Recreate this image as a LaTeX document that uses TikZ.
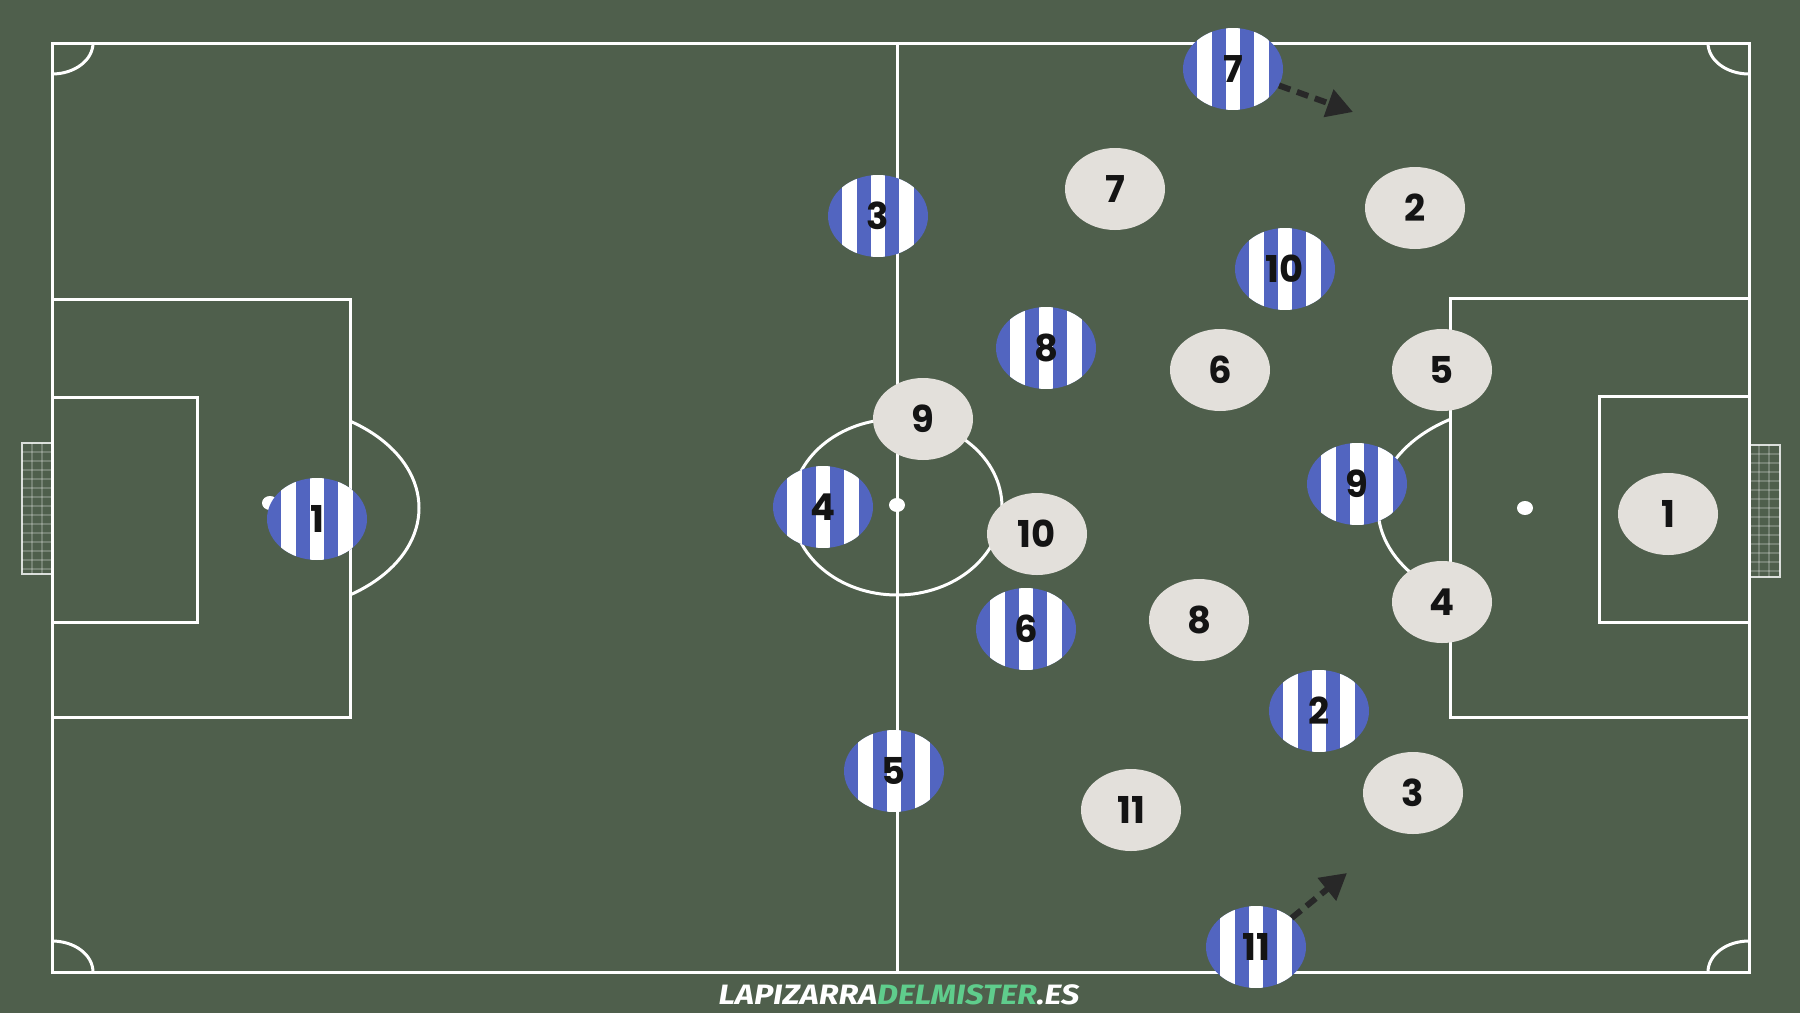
\documentclass[tikz,border=0pt]{standalone}
\usepackage{fontspec}
\newfontfamily\numfont{Poppins}
\newfontfamily\markfont{Fira Sans}[FakeStretch=1.16]
\usetikzlibrary{shapes.geometric,arrows.meta}
\definecolor{pitch}{RGB}{79,95,76}
\definecolor{stripe}{RGB}{82,101,192}
\definecolor{homec}{RGB}{227,224,219}
\definecolor{arrowc}{RGB}{40,40,40}
\definecolor{markgreen}{RGB}{95,205,140}
\begin{document}
\begin{tikzpicture}[x=1pt,y=-1pt,
 pline/.style={draw=white,line width=3pt},
 netline/.style={draw=white,opacity=0.22,line width=1.2pt},
 player/.style={ellipse,minimum width=100pt,minimum height=82pt,inner sep=0pt,
   font=\numfont\bfseries\fontsize{37}{37}\selectfont,text=black!92},
 away/.style={player,fill=stripe,path picture={
   \foreach \i in {-2,0,2}{\fill[white] ([xshift=\i*14.3pt-7.15pt]path picture bounding box.north) rectangle ([xshift=\i*14.3pt+7.15pt]path picture bounding box.south);}}},
 home/.style={player,fill=homec},
 run/.style={draw=arrowc,line width=6pt,dash pattern=on 12pt off 7pt,-{Triangle[length=26pt,width=28pt]}}
]
\fill[pitch] (0,0) rectangle (1800,1013);
\useasboundingbox (0,0) rectangle (1800,1013);
% nets
\foreach \xa/\xb/\ya/\yb in {22/52/443/574,1749/1780/445/577}{
  \foreach \x in {10,20}{\draw[netline] (\xa+\x,\ya) -- (\xa+\x,\yb);}
  \foreach \y in {9,18,...,126}{\draw[netline] (\xa,\ya+\y) -- (\xb,\ya+\y);}
  \draw[draw=white,opacity=0.8,line width=2pt] (\xa,\ya) rectangle (\xb,\yb);
}
% field
\draw[pline] (52,43) rectangle (1749,972);
\draw[pline] (897,43) -- (897,972);
\draw[pline] (897,507) ellipse[x radius=105,y radius=88];
\draw[pline] (52,299) rectangle (350,717);
\draw[pline] (52,397) rectangle (197,622);
\draw[pline] (1749,298) rectangle (1450,717);
\draw[pline] (1749,396) rectangle (1599,622);
\begin{scope}
 \clip (350,300) rectangle (500,720);
 \draw[pline] (270,508) ellipse[x radius=149,y radius=103];
\end{scope}
\begin{scope}
 \clip (1300,300) rectangle (1450,720);
 \draw[pline] (1525,508) ellipse[x radius=147,y radius=103];
\end{scope}
\begin{scope}
 \clip (52,43) rectangle (1749,972);
 \foreach \cx/\cy in {52/43,1749/43,52/972,1749/972}{
   \draw[pline] (\cx,\cy) ellipse[x radius=41,y radius=31];}
\end{scope}
\fill[white] (897,505) ellipse[x radius=8,y radius=7];
\fill[white] (1525,508) ellipse[x radius=8,y radius=7];
\fill[white] (270,503) ellipse[x radius=8,y radius=7];
% home (white) team
\node[home] (h7) at (1115,189) {7};
\node[home] (h2) at (1415,208) {2};
\node[home] (h6) at (1220,370) {6};
\node[home] (h5) at (1442,370) {5};
\node[home] (h9) at (923,419) {9};
\node[home] (h10) at (1037,534) {10};
\node[home] (h8) at (1199,620) {8};
\node[home] (h4) at (1442,602) {4};
\node[home] (h1) at (1668,514) {1};
\node[home] (h11) at (1131,810) {11};
\node[home] (h3) at (1413,793) {3};
% away (striped) team
\node[away] (b7) at (1233,69) {7};
\node[away] (b3) at (878,216) {3};
\node[away] (b10) at (1285,269) {10};
\node[away] (b8) at (1046,348) {8};
\node[away] (b4) at (823,507) {4};
\node[away] (b1) at (317,519) {1};
\node[away] (b9) at (1357,484) {9};
\node[away] (b6) at (1026,629) {6};
\node[away] (b2) at (1319,711) {2};
\node[away] (b5) at (894,771) {5};
\node[away] (b11) at (1256,947) {11};
% runs
\coordinate (t7) at (1353,112);
\coordinate (t11) at (1347,873);
\draw[run] (b7) -- (t7);
\draw[run] (b11) -- (t11);
% watermark
\node[font=\markfont\bfseries\itshape\fontsize{28}{28}\selectfont,inner sep=0pt] (wm) at (899,995)
 {\textcolor{white}{LAPIZARRA}\textcolor{markgreen}{DELMISTER}\textcolor{white}{.ES}};
\end{tikzpicture}
\end{document}
